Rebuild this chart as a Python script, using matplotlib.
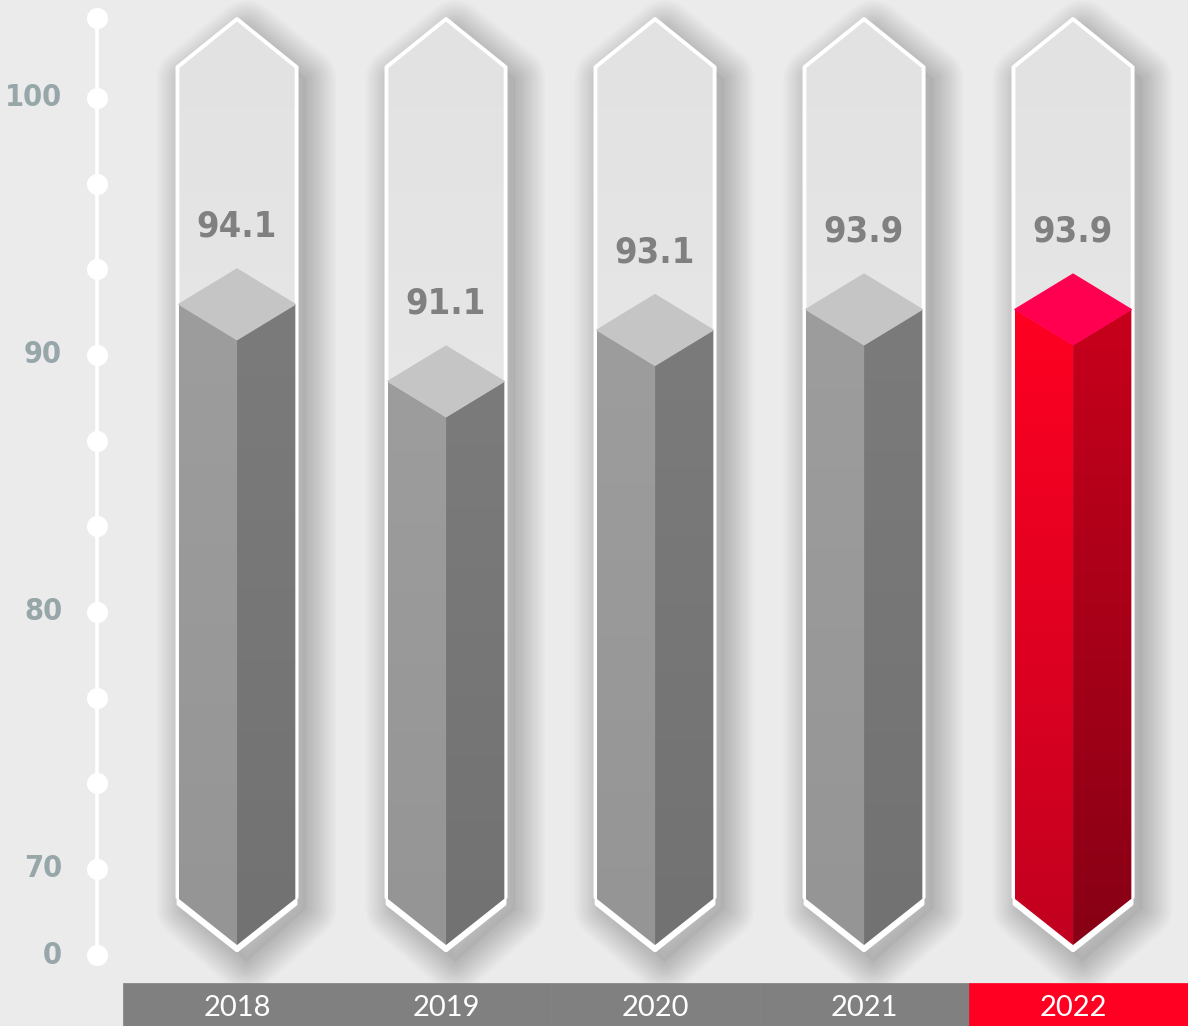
import matplotlib
matplotlib.use('Agg')
import matplotlib.pyplot as plt
import numpy as np
from matplotlib.patches import Polygon, Rectangle
from matplotlib.colors import LinearSegmentedColormap
from matplotlib import font_manager as fm

# data
years = ['2018', '2019', '2020', '2021', '2022']
values = [94.1, 91.1, 93.1, 93.9, 93.9]
highlight = '2022'
tick_values = [0, 70, 80, 90, 100]
dot_values = [0, 70, 73.33, 76.67, 80, 83.33, 86.67, 90, 93.33, 96.67, 100]

BG = '#ebebeb'

# pick a narrow font for the numbers if there is one
num_font = {'family': ['Roboto', 'DejaVu Sans']}
fp = fm.FontProperties(family='DejaVu Sans', stretch='condensed', weight='bold')
if 'Condensed' in fm.findfont(fp, fallback_to_default=False):
    num_font = {'family': ['DejaVu Sans'], 'stretch': 'condensed'}


def axis_pos(v):
    # broken axis: 0 sits just below 70
    return v if v >= 70 else 70 - 3.35 * (70 - v) / 70.0


def grad_fill(ax, verts, c_top, c_bot, z):
    poly = Polygon(verts, closed=True, facecolor='none', edgecolor='none', zorder=z)
    ax.add_patch(poly)
    xs = [p[0] for p in verts]
    ys = [p[1] for p in verts]
    cmap = LinearSegmentedColormap.from_list('g', [c_top, c_bot])
    g = np.linspace(0, 1, 256).reshape(-1, 1)
    im = ax.imshow(g, cmap=cmap, extent=[min(xs), max(xs), min(ys), max(ys)],
                   aspect='auto', origin='upper', zorder=z, interpolation='bilinear')
    im.set_clip_path(poly)
    return im


fig = plt.figure(figsize=(11.88, 10.26), dpi=100, facecolor=BG)
ax = fig.add_axes([0, 0, 1, 1])
ax.set_facecolor(BG)

hw = 0.279       # bar half width
fw = 0.285       # frame half width
dh = 1.38        # half height of top diamond
cap_off = 0.75
y_base = axis_pos(0) + 0.39
chev = 1.8

for i, (yr, v) in enumerate(zip(years, values)):
    c = i
    frame = [(c, 103.07), (c + fw, 101.2), (c + fw, 68.9), (c, 66.85),
             (c - fw, 68.9), (c - fw, 101.2)]

    # soft shadow
    sh = [(x + 0.045, y - 0.45) for x, y in frame]
    for k in range(14):
        ax.add_patch(Polygon(sh, closed=True, facecolor='none', edgecolor='black',
                             lw=2 + 3.2 * k, alpha=0.014, joinstyle='round', zorder=1))
    ax.add_patch(Polygon(sh, closed=True, facecolor='#a8a8a8', edgecolor='none',
                         alpha=0.4, zorder=1))

    grad_fill(ax, frame, '#e2e2e2', '#ededed', 2)
    ax.add_patch(Polygon(frame, closed=True, facecolor='none', edgecolor='white',
                         lw=2.8, joinstyle='round', zorder=3))

    top_v = axis_pos(v) - cap_off
    mid = top_v - dh
    front = top_v - 2 * dh

    if yr == highlight:
        lcols = ('#ff0022', '#c2001f')
        rcols = ('#c8001c', '#870015')
        tcol = '#ff0050'
    else:
        lcols = ('#9d9d9d', '#959595')
        rcols = ('#7b7b7b', '#727272')
        tcol = '#c5c5c5'

    under = [(c - hw, mid), (c + hw, mid), (c + hw, y_base + chev),
             (c, y_base), (c - hw, y_base + chev)]
    ax.add_patch(Polygon([(x, y - 0.2) for x, y in under], closed=True,
                         facecolor='white', edgecolor='white', lw=3,
                         joinstyle='round', zorder=4))

    left = [(c - hw, mid), (c, front), (c, y_base), (c - hw, y_base + chev)]
    right = [(c + hw, mid), (c, front), (c, y_base), (c + hw, y_base + chev)]
    grad_fill(ax, left, lcols[0], lcols[1], 5)
    grad_fill(ax, right, rcols[0], rcols[1], 5)
    ax.add_patch(Polygon([(c, top_v), (c + hw, mid), (c, front), (c - hw, mid)],
                         closed=True, facecolor=tcol, edgecolor=tcol, lw=0.8,
                         joinstyle='round', zorder=6))

    ax.text(c, axis_pos(v) + 0.9, f'{v:.1f}', ha='center', va='center',
            fontsize=26, fontweight='bold', color='#808080', zorder=7, **num_font)

# left axis with dots
ax_x = -0.67
ax.plot([ax_x, ax_x], [axis_pos(0), 103.1], color='white', lw=2.6,
        solid_capstyle='round', zorder=3)
ax.scatter([ax_x] * (len(dot_values) + 1), [axis_pos(d) for d in dot_values] + [103.1],
           s=230, color='white', zorder=4, linewidths=0)
for t in tick_values:
    ax.text(-0.837, axis_pos(t), str(t), ha='right', va='center', fontsize=22,
            fontweight='bold', color='#97a6a9', **num_font)

# year band
band_top = 65.56
for i, yr in enumerate(years):
    x0 = i - 0.5 if i > 0 else -0.545
    x1 = i + 0.5 if i < len(years) - 1 else 4.6
    col = '#ff0022' if yr == highlight else '#808080'
    ax.add_patch(Rectangle((x0, 63.8), x1 - x0, band_top - 63.8, facecolor=col,
                           edgecolor=col, lw=0.5, zorder=2))
    ax.text(i, 64.58, yr, ha='center', va='center', fontsize=21, color='white',
            family=['Lato', 'DejaVu Sans'], zorder=3)

ax.set_xlim(-1.134, 4.55)
ax.set_ylim(63.89, 103.81)
ax.axis('off')

fig.savefig('out.png', dpi=100, facecolor=BG)
